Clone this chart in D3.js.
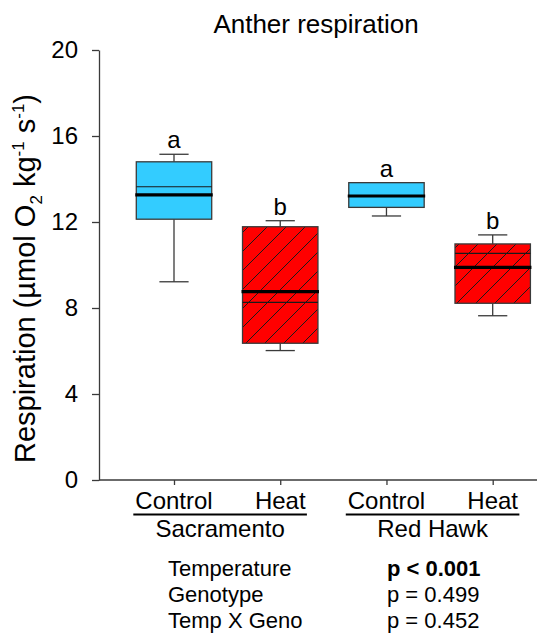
<!DOCTYPE html>
<html>
<head>
<meta charset="utf-8">
<script src="https://cdn.jsdelivr.net/npm/d3@7"></script>
<style>
  html, body { margin: 0; padding: 0; background: #fff; }
  svg { display: block; font-family: "Liberation Sans", Arial, Helvetica, sans-serif; }
</style>
</head>
<body>
<svg id="chart" width="537" height="633"></svg>
<script>
// ---- data ----
const categories = ["Control", "Heat", "Control", "Heat"];
const groupIds = ["SC-C", "SC-H", "RH-C", "RH-H"];
const genotypes = ["Sacramento", "Red Hawk"];
const treatments = ["control", "heat", "control", "heat"];
const whiskerLow  = [9.22, 6.02, 12.28, 7.64];
const q1          = [12.13, 6.36, 12.68, 8.22];
const medians     = [13.26, 8.76, 13.21, 9.89];
const means       = [13.64, 8.26, 13.21, 10.54];
const q3          = [14.80, 11.78, 13.83, 10.98];
const whiskerHigh = [15.15, 12.06, 13.83, 11.40];
const letters     = ["a", "b", "a", "b"];
const yTicks      = [0, 4, 8, 12, 16, 20];
const statLabels  = ["Temperature", "Genotype", "Temp X Geno"];
const statValues  = ["p < 0.001", "p = 0.499", "p = 0.452"];
const statBold    = [true, false, false];
const title = "Anther respiration";

// ---- layout ----
const svg = d3.select("#chart");
const W = 537;
const axisLeft = 99, axisBottom = 480, axisTop = 50;
const x = d3.scalePoint().domain(groupIds).range([174, 492.7]);
const y = d3.scaleLinear().domain([0, 20]).range([axisBottom, axisTop]);
const boxW = x.step() * 0.71;
const capW = x.step() * 0.275;
const lineCol = "#3a3a3a";

const defs = svg.append("defs");
const pat = defs.append("pattern")
  .attr("id", "hatch").attr("patternUnits", "userSpaceOnUse")
  .attr("width", 19).attr("height", 19);
pat.append("rect").attr("width", 19).attr("height", 19).attr("fill", "#ff0000");
pat.append("path")
  .attr("d", "M0,19 L19,0 M-4,4 L4,-4 M15,23 L23,15")
  .attr("stroke", "#1a1a1a").attr("stroke-width", 1);

// title
svg.append("text").attr("x", 316).attr("y", 33)
  .attr("text-anchor", "middle").attr("font-size", 26).attr("fill", "#000")
  .text(title);

// y axis
const yAxis = svg.append("g").attr("transform", `translate(${axisLeft},0)`)
  .call(d3.axisLeft(y).tickValues(yTicks).tickSize(7).tickPadding(14).tickSizeOuter(0));
yAxis.select(".domain").attr("stroke", lineCol).attr("stroke-width", 1.3);
yAxis.selectAll(".tick line").attr("stroke", lineCol).attr("stroke-width", 1.3);
yAxis.selectAll(".tick text").attr("font-size", 24).attr("fill", "#000")
  .attr("font-family", "Liberation Sans, Arial, sans-serif");

// x axis line
svg.append("line").attr("x1", axisLeft).attr("x2", W)
  .attr("y1", axisBottom).attr("y2", axisBottom)
  .attr("stroke", lineCol).attr("stroke-width", 1.3);
const xAxis = svg.append("g").attr("transform", `translate(0,${axisBottom})`)
  .call(d3.axisBottom(x).tickSize(5).tickFormat(() => "").tickSizeOuter(0));
xAxis.select(".domain").remove();
xAxis.selectAll(".tick line").attr("stroke", lineCol).attr("stroke-width", 1.3);

// y label
const yl = svg.append("text")
  .attr("transform", `translate(35,${(92 + 465) / 2}) rotate(-90)`)
  .attr("text-anchor", "middle").attr("font-size", 29).attr("fill", "#000");
yl.append("tspan").text("Respiration (\u00b5mol O");
yl.append("tspan").attr("font-size", 17).attr("dy", 7).text("2");
yl.append("tspan").attr("dy", -7).text(" kg");
yl.append("tspan").attr("font-size", 17).attr("dy", -11).text("-1");
yl.append("tspan").attr("dy", 11).text(" s");
yl.append("tspan").attr("font-size", 17).attr("dy", -11).text("-1");
yl.append("tspan").attr("dy", 11).text(")");

// boxes
const data = groupIds.map((g, i) => ({
  g, i, lo: whiskerLow[i], q1: q1[i], med: medians[i], mean: means[i],
  q3: q3[i], hi: whiskerHigh[i], t: treatments[i], letter: letters[i]
}));
const bx = svg.append("g").selectAll("g").data(data).join("g");
// whiskers
bx.append("line").attr("x1", d => x(d.g)).attr("x2", d => x(d.g))
  .attr("y1", d => y(d.q3)).attr("y2", d => y(d.hi))
  .attr("stroke", lineCol).attr("stroke-width", 1.3);
bx.append("line").attr("x1", d => x(d.g)).attr("x2", d => x(d.g))
  .attr("y1", d => y(d.q1)).attr("y2", d => y(d.lo))
  .attr("stroke", lineCol).attr("stroke-width", 1.3);
bx.append("line").attr("x1", d => x(d.g) - capW / 2).attr("x2", d => x(d.g) + capW / 2)
  .attr("y1", d => y(d.hi)).attr("y2", d => y(d.hi))
  .attr("stroke", lineCol).attr("stroke-width", 1.3);
bx.append("line").attr("x1", d => x(d.g) - capW / 2).attr("x2", d => x(d.g) + capW / 2)
  .attr("y1", d => y(d.lo)).attr("y2", d => y(d.lo))
  .attr("stroke", lineCol).attr("stroke-width", 1.3);
// box
bx.append("rect")
  .attr("x", d => x(d.g) - boxW / 2).attr("width", boxW)
  .attr("y", d => y(d.q3)).attr("height", d => y(d.q1) - y(d.q3))
  .attr("fill", d => d.t === "heat" ? "url(#hatch)" : "#33ccff")
  .attr("stroke", lineCol).attr("stroke-width", 1.3);
// mean (thin)
bx.append("line").attr("x1", d => x(d.g) - boxW / 2).attr("x2", d => x(d.g) + boxW / 2)
  .attr("y1", d => y(d.mean)).attr("y2", d => y(d.mean))
  .attr("stroke", "#1a1a1a").attr("stroke-width", 1.2);
// median (thick)
bx.append("line").attr("x1", d => x(d.g) - boxW / 2 - 1).attr("x2", d => x(d.g) + boxW / 2 + 1)
  .attr("y1", d => y(d.med)).attr("y2", d => y(d.med))
  .attr("stroke", "#000").attr("stroke-width", 3.2);
// letters
bx.append("text").attr("x", d => x(d.g)).attr("y", d => y(d.hi) - 6)
  .attr("text-anchor", "middle").attr("font-size", 24).attr("fill", "#000")
  .text(d => d.letter);

// category labels
const catText = svg.append("g").selectAll("text").data(groupIds).join("text")
  .attr("x", d => x(d)).attr("y", 509)
  .attr("text-anchor", "middle").attr("font-size", 24).attr("fill", "#000")
  .text((d, i) => categories[i]);
const nodes = catText.nodes();
genotypes.forEach((gname, k) => {
  const b1 = nodes[2 * k].getBBox();
  const b2 = nodes[2 * k + 1].getBBox();
  const x1 = b1.x - 2, x2 = b2.x + b2.width + 1;
  svg.append("line").attr("x1", x1).attr("x2", x2).attr("y1", 514.5).attr("y2", 514.5)
    .attr("stroke", "#000").attr("stroke-width", 2);
  svg.append("text").attr("x", (x1 + x2) / 2).attr("y", 537)
    .attr("text-anchor", "middle").attr("font-size", 24).attr("fill", "#000")
    .text(gname);
});

// stats
statLabels.forEach((s, i) => {
  svg.append("text").attr("x", 168).attr("y", 576 + i * 26)
    .attr("font-size", 22).attr("fill", "#000").text(s);
  svg.append("text").attr("x", 387).attr("y", 576 + i * 26)
    .attr("font-size", 22).attr("fill", "#000")
    .attr("font-weight", statBold[i] ? "bold" : "normal").text(statValues[i]);
});
</script>
</body>
</html>
